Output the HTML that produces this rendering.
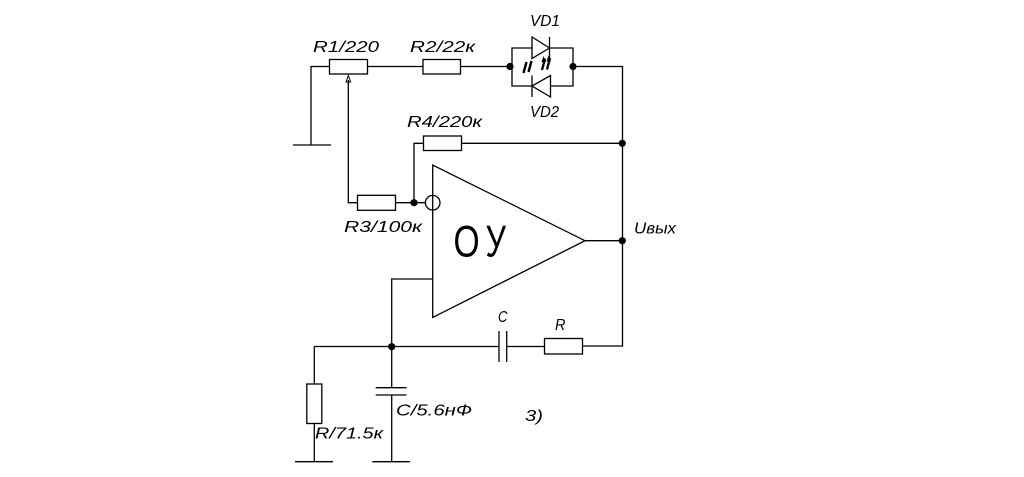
<!DOCTYPE html>
<html><head><meta charset="utf-8"><style>
html,body{margin:0;padding:0;background:#fff;}
svg{display:block;}
text{font-family:"Liberation Sans",sans-serif;font-style:italic;font-size:16px;fill:#000;}
</style></head><body>
<svg width="1024" height="477" viewBox="0 0 1024 477" xmlns="http://www.w3.org/2000/svg">
<g fill="none" stroke="#000" stroke-width="1.3">
<!-- ground left top -->
<line x1="293" y1="145" x2="331" y2="145"/>
<polyline points="311,145 311,66.5 329,66.5"/>
<!-- R1 -->
<rect x="329.5" y="59.5" width="38" height="14.5"/>
<line x1="367.5" y1="66.5" x2="423" y2="66.5"/>
<!-- R2 -->
<rect x="423" y="59.5" width="37.5" height="14.5"/>
<line x1="460.5" y1="66.5" x2="511" y2="66.5"/>
<!-- diode bridge -->
<polyline points="512,66.5 512,48 573,48 573,66.5"/>
<polyline points="512,66.5 512,86 573,86 573,66.5"/>
<polyline points="573,66.5 622.5,66.5 622.5,346 583,346"/>
<!-- VD1 -->
<polygon points="532,37 532,58.5 549.5,48" fill="#fff"/>
<line x1="549.5" y1="37" x2="549.5" y2="58.5"/>
<!-- VD2 -->
<polygon points="550.5,75.5 550.5,97 532,86" fill="#fff"/>
<line x1="532" y1="75.5" x2="532" y2="97"/>
<!-- wiper -->
<polyline points="348.3,80 348.3,202.7 357.5,202.7"/>
<!-- R3 -->
<rect x="357.5" y="195.3" width="38" height="15"/>
<line x1="395.5" y1="202.7" x2="425.5" y2="202.7"/>
<!-- R4 loop -->
<polyline points="414,202.7 414,143.3 423.5,143.3"/>
<rect x="423.5" y="136" width="38" height="14.5"/>
<line x1="461.5" y1="143.3" x2="622.5" y2="143.3"/>
<!-- opamp -->
<polygon points="432.7,165 432.7,317.5 585,240.7"/>
<circle cx="432.7" cy="202.7" r="7.3"/>
<line x1="585" y1="240.7" x2="622.5" y2="240.7"/>
<!-- noninverting -->
<polyline points="432.7,279 391.7,279 391.7,346.7"/>
<!-- bottom line -->
<line x1="314.3" y1="346.5" x2="499" y2="346.5"/>
<line x1="499" y1="331" x2="499" y2="362"/>
<line x1="506.7" y1="331" x2="506.7" y2="362"/>
<line x1="506.7" y1="346.5" x2="544.5" y2="346.5"/>
<rect x="544.5" y="338.5" width="38" height="15.5"/>
<line x1="582.5" y1="346.5" x2="583" y2="346.5"/>
<!-- R/71.5k -->
<line x1="314.3" y1="346.5" x2="314.3" y2="384"/>
<rect x="306.8" y="384" width="15" height="39.5"/>
<line x1="314.3" y1="423.5" x2="314.3" y2="461.7"/>
<line x1="295" y1="461.7" x2="333" y2="461.7"/>
<!-- C/5.6nF -->
<line x1="391.7" y1="346.7" x2="391.7" y2="387.7"/>
<line x1="375.7" y1="387.7" x2="406.5" y2="387.7"/>
<line x1="375.7" y1="395" x2="406.5" y2="395"/>
<line x1="391.7" y1="395" x2="391.7" y2="461.7"/>
<line x1="372.3" y1="461.7" x2="410" y2="461.7"/>
</g>
<!-- wiper arrow -->
<polygon points="348.3,75.5 346,82 350.6,82" fill="none" stroke="#000" stroke-width="1"/>
<!-- LED marks -->
<g stroke="#000" stroke-width="2.4" fill="none">
<line x1="526.5" y1="62" x2="523.5" y2="73"/>
<line x1="531.5" y1="61" x2="528.5" y2="72"/>
<line x1="545" y1="58.5" x2="542" y2="70"/>
<line x1="550" y1="58" x2="547" y2="69.5"/>
</g>
<g fill="#000">
<polygon points="543.5,56 541.5,62 546,62"/>
<polygon points="548.5,55.5 546.5,61.5 551,61.5"/>
</g>
<!-- dots -->
<g fill="#000">
<circle cx="510" cy="66.5" r="3.6"/>
<circle cx="573" cy="66.5" r="3.6"/>
<circle cx="622.3" cy="143.3" r="3.6"/>
<circle cx="414" cy="202.7" r="3.6"/>
<circle cx="622.3" cy="240.7" r="3.6"/>
<circle cx="391.7" cy="346.7" r="3.6"/>
</g>
<!-- labels -->
<text x="313" y="52" textLength="66" lengthAdjust="spacingAndGlyphs">R1/220</text>
<text x="410" y="52" textLength="65" lengthAdjust="spacingAndGlyphs">R2/22к</text>
<text x="530" y="26" textLength="30" lengthAdjust="spacingAndGlyphs">VD1</text>
<text x="530" y="117" textLength="29" lengthAdjust="spacingAndGlyphs">VD2</text>
<text x="407" y="127" textLength="75" lengthAdjust="spacingAndGlyphs">R4/220к</text>
<text x="344" y="232" textLength="78" lengthAdjust="spacingAndGlyphs">R3/100к</text>
<text x="634" y="233.5" textLength="42" lengthAdjust="spacingAndGlyphs">Uвых</text>
<text x="498" y="322" textLength="9.5" lengthAdjust="spacingAndGlyphs">C</text>
<text x="555" y="330" textLength="10.5" lengthAdjust="spacingAndGlyphs">R</text>
<text x="396" y="415.5" textLength="76" lengthAdjust="spacingAndGlyphs">C/5.6нФ</text>
<text x="315" y="438.5" textLength="68" lengthAdjust="spacingAndGlyphs">R/71.5к</text>
<text x="525" y="421" textLength="18" lengthAdjust="spacingAndGlyphs">3)</text>
<!-- OU -->
<text x="0" y="0" style="font-style:normal;font-size:14px" transform="translate(453.5,256.7) scale(2.4,3.15)">О</text>
<text x="0" y="0" style="font-style:normal;font-size:14px" transform="translate(485.5,256.7) scale(2.3,3.15)">У</text>
</svg>
</body></html>
